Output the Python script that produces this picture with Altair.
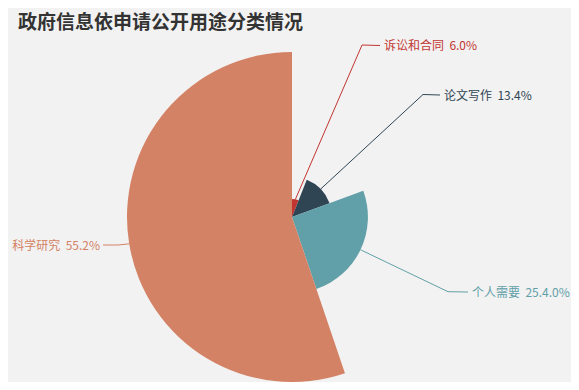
import math
import altair as alt
import pandas as pd

# ---- data ----
categories = ["诉讼和合同", "论文写作", "个人需要", "科学研究"]
values = [6.0, 13.4, 25.4, 55.2]
label_texts = ["诉讼和合同\u00a0\u00a06.0%", "论文写作\u00a0\u00a013.4%", "个人需要\u00a0\u00a025.4.0%", "科学研究\u00a0\u00a055.2%"]
title_text = "政府信息依申请公开用途分类情况"

# ---- style / layout ----
colors = ["#c23531", "#2f4554", "#61a0a8", "#d48265"]
W, H = 563, 374
CX, CY = 284, 209
R_MAX = 165
label_bend = [(354, 37), (415, 86.5), (440, 283.7), (110, 237)]
label_end = [(372, 37.5), (432, 87), (460, 284), (95, 237)]
label_side = ["left", "left", "left", "right"]
FONT = "Noto Sans CJK SC"

df = pd.DataFrame({"cat": categories, "value": values, "idx": range(len(values))})

# leader lines: start at outer mid-point of each rose sector
total = sum(values)
vmax = max(values)
rows = []
txt_rows = []
cum = 0.0
for i, (c, v) in enumerate(zip(categories, values)):
    mid = (cum + v / 2) / total * 2 * math.pi
    cum += v
    r = v / vmax * R_MAX
    sx = CX + r * math.sin(mid)
    sy = CY - r * math.cos(mid)
    pts = [(sx, sy), label_bend[i], label_end[i]]
    for k, (px, py) in enumerate(pts):
        rows.append({"cat": c, "seq": k, "px": px, "py": py})
    ex, ey = label_end[i]
    off = 4 if label_side[i] == "left" else -3
    txt_rows.append({"cat": c, "text": label_texts[i], "px": ex + off, "py": ey + 0.8, "side": label_side[i]})

lines_df = pd.DataFrame(rows)
txt_df = pd.DataFrame(txt_rows)

color_scale = alt.Scale(domain=categories, range=colors)
xs = alt.Scale(domain=[0, W], range=[0, W])
ys = alt.Scale(domain=[0, H], range=[0, H])

arcs = alt.Chart(df).mark_arc().encode(
    theta=alt.Theta("value:Q", stack=True),
    radius=alt.Radius("value:Q", scale=alt.Scale(type="linear", zero=True, range=[0, R_MAX])),
    color=alt.Color("cat:N", scale=color_scale, legend=None),
    order=alt.Order("idx:Q"),
    x=alt.value(CX),
    y=alt.value(CY),
)

leaders = alt.Chart(lines_df).mark_line(strokeWidth=1).encode(
    x=alt.X("px:Q", scale=xs, axis=None),
    y=alt.Y("py:Q", scale=ys, axis=None),
    color=alt.Color("cat:N", scale=color_scale, legend=None),
    detail="cat:N",
    order="seq:Q",
)

def label_layer(side):
    return alt.Chart(txt_df).transform_filter(alt.datum.side == side).mark_text(
        align=side, baseline="middle", font=FONT, fontSize=12
    ).encode(
        x=alt.X("px:Q", scale=xs, axis=None),
        y=alt.Y("py:Q", scale=ys, axis=None),
        text="text:N",
        color=alt.Color("cat:N", scale=color_scale, legend=None),
    )

title = alt.Chart(pd.DataFrame({"t": [title_text]})).mark_text(
    align="left", baseline="middle", font=FONT, fontSize=19, fontWeight="bold", color="#333333"
).encode(x=alt.value(10), y=alt.value(14.5), text="t:N")

chart = alt.layer(arcs, leaders, label_layer("left"), label_layer("right"), title).properties(
    width=W, height=H, background="#f2f2f2", padding=0,
    autosize=alt.AutoSizeParams(type="none"),
).configure_view(stroke=None)

chart.save("out.html", embed_options={"renderer": "svg", "actions": False})
